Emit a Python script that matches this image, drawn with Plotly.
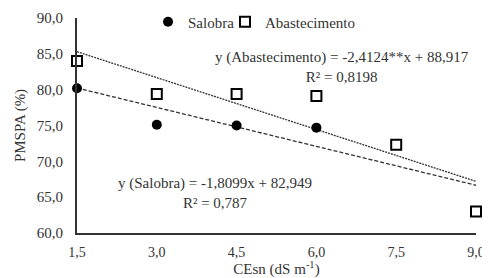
import plotly.graph_objects as go

x_salobra = [1.5, 3.0, 4.5, 6.0]
y_salobra = [80.2, 75.1, 75.0, 74.7]
x_abast = [1.5, 3.0, 4.5, 6.0, 7.5, 9.0]
y_abast = [84.0, 79.4, 79.4, 79.1, 72.3, 63.0]

# regression coefficients shown in the chart
a_sal, b_sal = -1.8099, 82.949
a_ab, b_ab = -2.4124, 88.917
x_fit = [1.5, 9.0]

xticks = [1.5, 3.0, 4.5, 6.0, 7.5, 9.0]
yticks = [60, 65, 70, 75, 80, 85, 90]

font = dict(family="Liberation Serif", size=15, color="#333")

fig = go.Figure()
fig.add_trace(go.Scatter(x=x_fit, y=[a_ab * v + b_ab for v in x_fit], mode="lines",
                         line=dict(color="#333", width=1.3, dash="2px,1px"), showlegend=False,
                         hoverinfo="skip"))
fig.add_trace(go.Scatter(x=x_fit, y=[a_sal * v + b_sal for v in x_fit], mode="lines",
                         line=dict(color="#333", width=1.3, dash="4px,2px"), showlegend=False,
                         hoverinfo="skip"))
fig.add_trace(go.Scatter(x=x_salobra, y=y_salobra, mode="markers", name="Salobra",
                         marker=dict(symbol="circle", size=10, color="black"),
                         cliponaxis=False, legend="legend"))
fig.add_trace(go.Scatter(x=x_abast, y=y_abast, mode="markers", name="Abastecimento",
                         marker=dict(symbol="square-open", size=10, color="black",
                                     line=dict(width=2, color="black")),
                         cliponaxis=False, legend="legend2"))

fig.add_annotation(x=0.665, y=0.774, xref="paper", yref="paper", showarrow=False,
                   text="y (Abastecimento) = -2,4124**x + 88,917<br>R² = 0,8198",
                   font=font, align="center", xanchor="center", yanchor="middle")
fig.add_annotation(x=0.347, y=0.188, xref="paper", yref="paper", showarrow=False,
                   text="y (Salobra) = -1,8099x + 82,949<br>R² = 0,787",
                   font=font, align="center", xanchor="center", yanchor="middle")

leg = dict(orientation="h", y=0.981, xanchor="left", yanchor="middle",
           font=font, itemwidth=30, bgcolor="rgba(0,0,0,0)")

# the page body keeps an 8px margin, so the figure is 8px smaller than the window
fig.update_layout(
    width=482, height=270,
    margin=dict(l=69, r=14, t=10, b=45, autoexpand=False),
    paper_bgcolor="white", plot_bgcolor="white",
    font=font,
    separators=",.",
    legend=dict(leg, x=0.178),
    legend2=dict(leg, x=0.371),
    xaxis=dict(range=[1.5, 9.0], tickvals=xticks, tickformat=".1f", showgrid=False,
               zeroline=False, showline=True, linecolor="#333", linewidth=2,
               ticks="", ticklabelstandoff=5, tickfont=dict(font, size=14),
               title=dict(text="CEsn (dS m<sup>-1</sup>)", font=font, standoff=3)),
    yaxis=dict(range=[60, 90], tickvals=yticks, tickformat=".1f", showgrid=False,
               zeroline=False, showline=True, linecolor="#333", linewidth=2,
               ticks="", ticklabelstandoff=9,
               title=dict(text="PMSPA (%)", font=font, standoff=8)),
)

fig.write_html("out.html")
